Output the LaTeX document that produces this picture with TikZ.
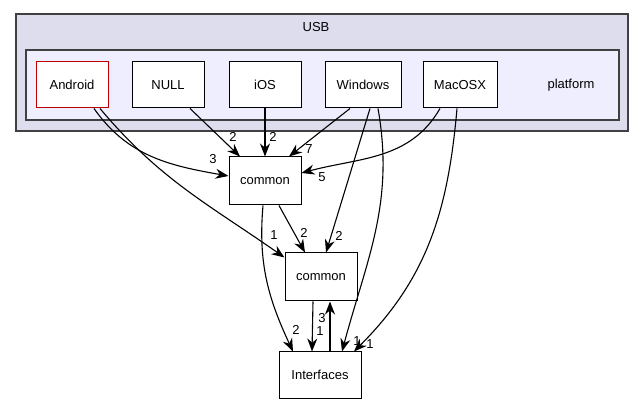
\documentclass[tikz,border=0pt]{standalone}
\usepackage{fontspec}
\setmainfont{Liberation Sans}
\usetikzlibrary{arrows.meta,positioning}
\definecolor{usbfill}{HTML}{DDDDEE}
\definecolor{platfill}{HTML}{EEEEFF}
\definecolor{dirred}{HTML}{BF0000}

\begin{document}
\begin{tikzpicture}[x=1pt, y=-1pt, every node/.style={font=\fontsize{13}{15}\selectfont},
  dirbox/.style={draw=black, fill=white, line width=1pt, minimum width=72pt, minimum height=46pt, inner sep=0pt},
  dep/.style={-{Stealth[length=13pt,width=10pt]}, line width=1.1pt},
  cnt/.style={inner sep=0pt}]

  % ---- Frame ----
  \useasboundingbox (0,0) rectangle (632,403);
  \draw[fill=usbfill, draw=black!75, line width=1.1pt] (16,14) rectangle (628,131);
  \node (usb) at (316,27) {USB};
  \draw[fill=platfill, draw=black!75, line width=1.1pt] (26,50) rectangle (619,120);
  \node (plat) at (571,85) {platform};

  % ---- Directories ----
  \node[dirbox, draw=dirred] (android) at (72,85) {Android};
  \node[dirbox] (null) at (168,85) {NULL};
  \node[dirbox] (ios) at (265,85) {iOS};
  \node[dirbox, minimum width=76pt] (win) at (363,85) {Windows};
  \node[dirbox, minimum width=74pt] (mac) at (460,85) {MacOSX};
  \node[dirbox, minimum height=48pt] (comA) at (265,181) {common};
  \node[dirbox, minimum height=48pt] (comB) at (321,277) {common};
  \node[dirbox, minimum width=82pt] (iface) at (320,375) {Interfaces};

  % ---- Dependencies ----
  \draw[dep] ([xshift=22pt]android.south) to[out=-55, in=170] ([yshift=5pt]comA.west);
  \node[cnt] (l1) at (213,159) {3};
  \draw[dep] ([xshift=28pt]android.south) to[out=-50, in=145] ([yshift=-5pt]comB.north west);
  \node[cnt] (l2) at (274,235) {1};
  \draw[dep] ([xshift=22pt]null.south) -- ([xshift=-25pt]comA.north);
  \node[cnt] (l3) at (233,137) {2};
  \draw[dep] (ios.south) -- (comA.north);
  \node[cnt] (l4) at (273,137) {2};
  \draw[dep] ([xshift=-13pt]win.south) -- ([xshift=24pt]comA.north);
  \node[cnt] (l5) at (309,149) {7};
  \draw[dep] ([xshift=-20pt]mac.south) to[out=-120, in=15] ([yshift=8pt]comA.east);
  \node[cnt] (l6) at (322,177) {5};
  \draw[dep] ([xshift=7pt]win.south) -- ([xshift=5pt]comB.north);
  \node[cnt] (l7) at (339,236) {2};
  \draw[dep] ([xshift=15pt]win.south) to[out=-80, in=75] ([xshift=22pt]iface.north);
  \node[cnt] (l8) at (357,341) {1};
  \draw[dep] ([xshift=-3pt]mac.south) to[out=-95, in=45] ([xshift=34pt]iface.north);
  \node[cnt] (l9) at (370,344) {1};
  \draw[dep] ([xshift=-2pt]comA.south) to[out=-95, in=115] ([xshift=-27pt]iface.north);
  \node[cnt] (l10) at (296,330) {2};
  \draw[dep] ([xshift=-8pt]comB.south) -- ([xshift=-8pt]iface.north);
  \draw[dep] ([xshift=14pt]comA.south) -- ([xshift=-16pt]comB.north);
  \node[cnt] (l11) at (304,233) {2};
  \node[cnt] (l12) at (320,331) {1};
  \draw[dep] ([xshift=10pt]iface.north) -- ([xshift=9pt]comB.south);
  \node[cnt] (l13) at (322,318) {3};

\end{tikzpicture}
\end{document}
